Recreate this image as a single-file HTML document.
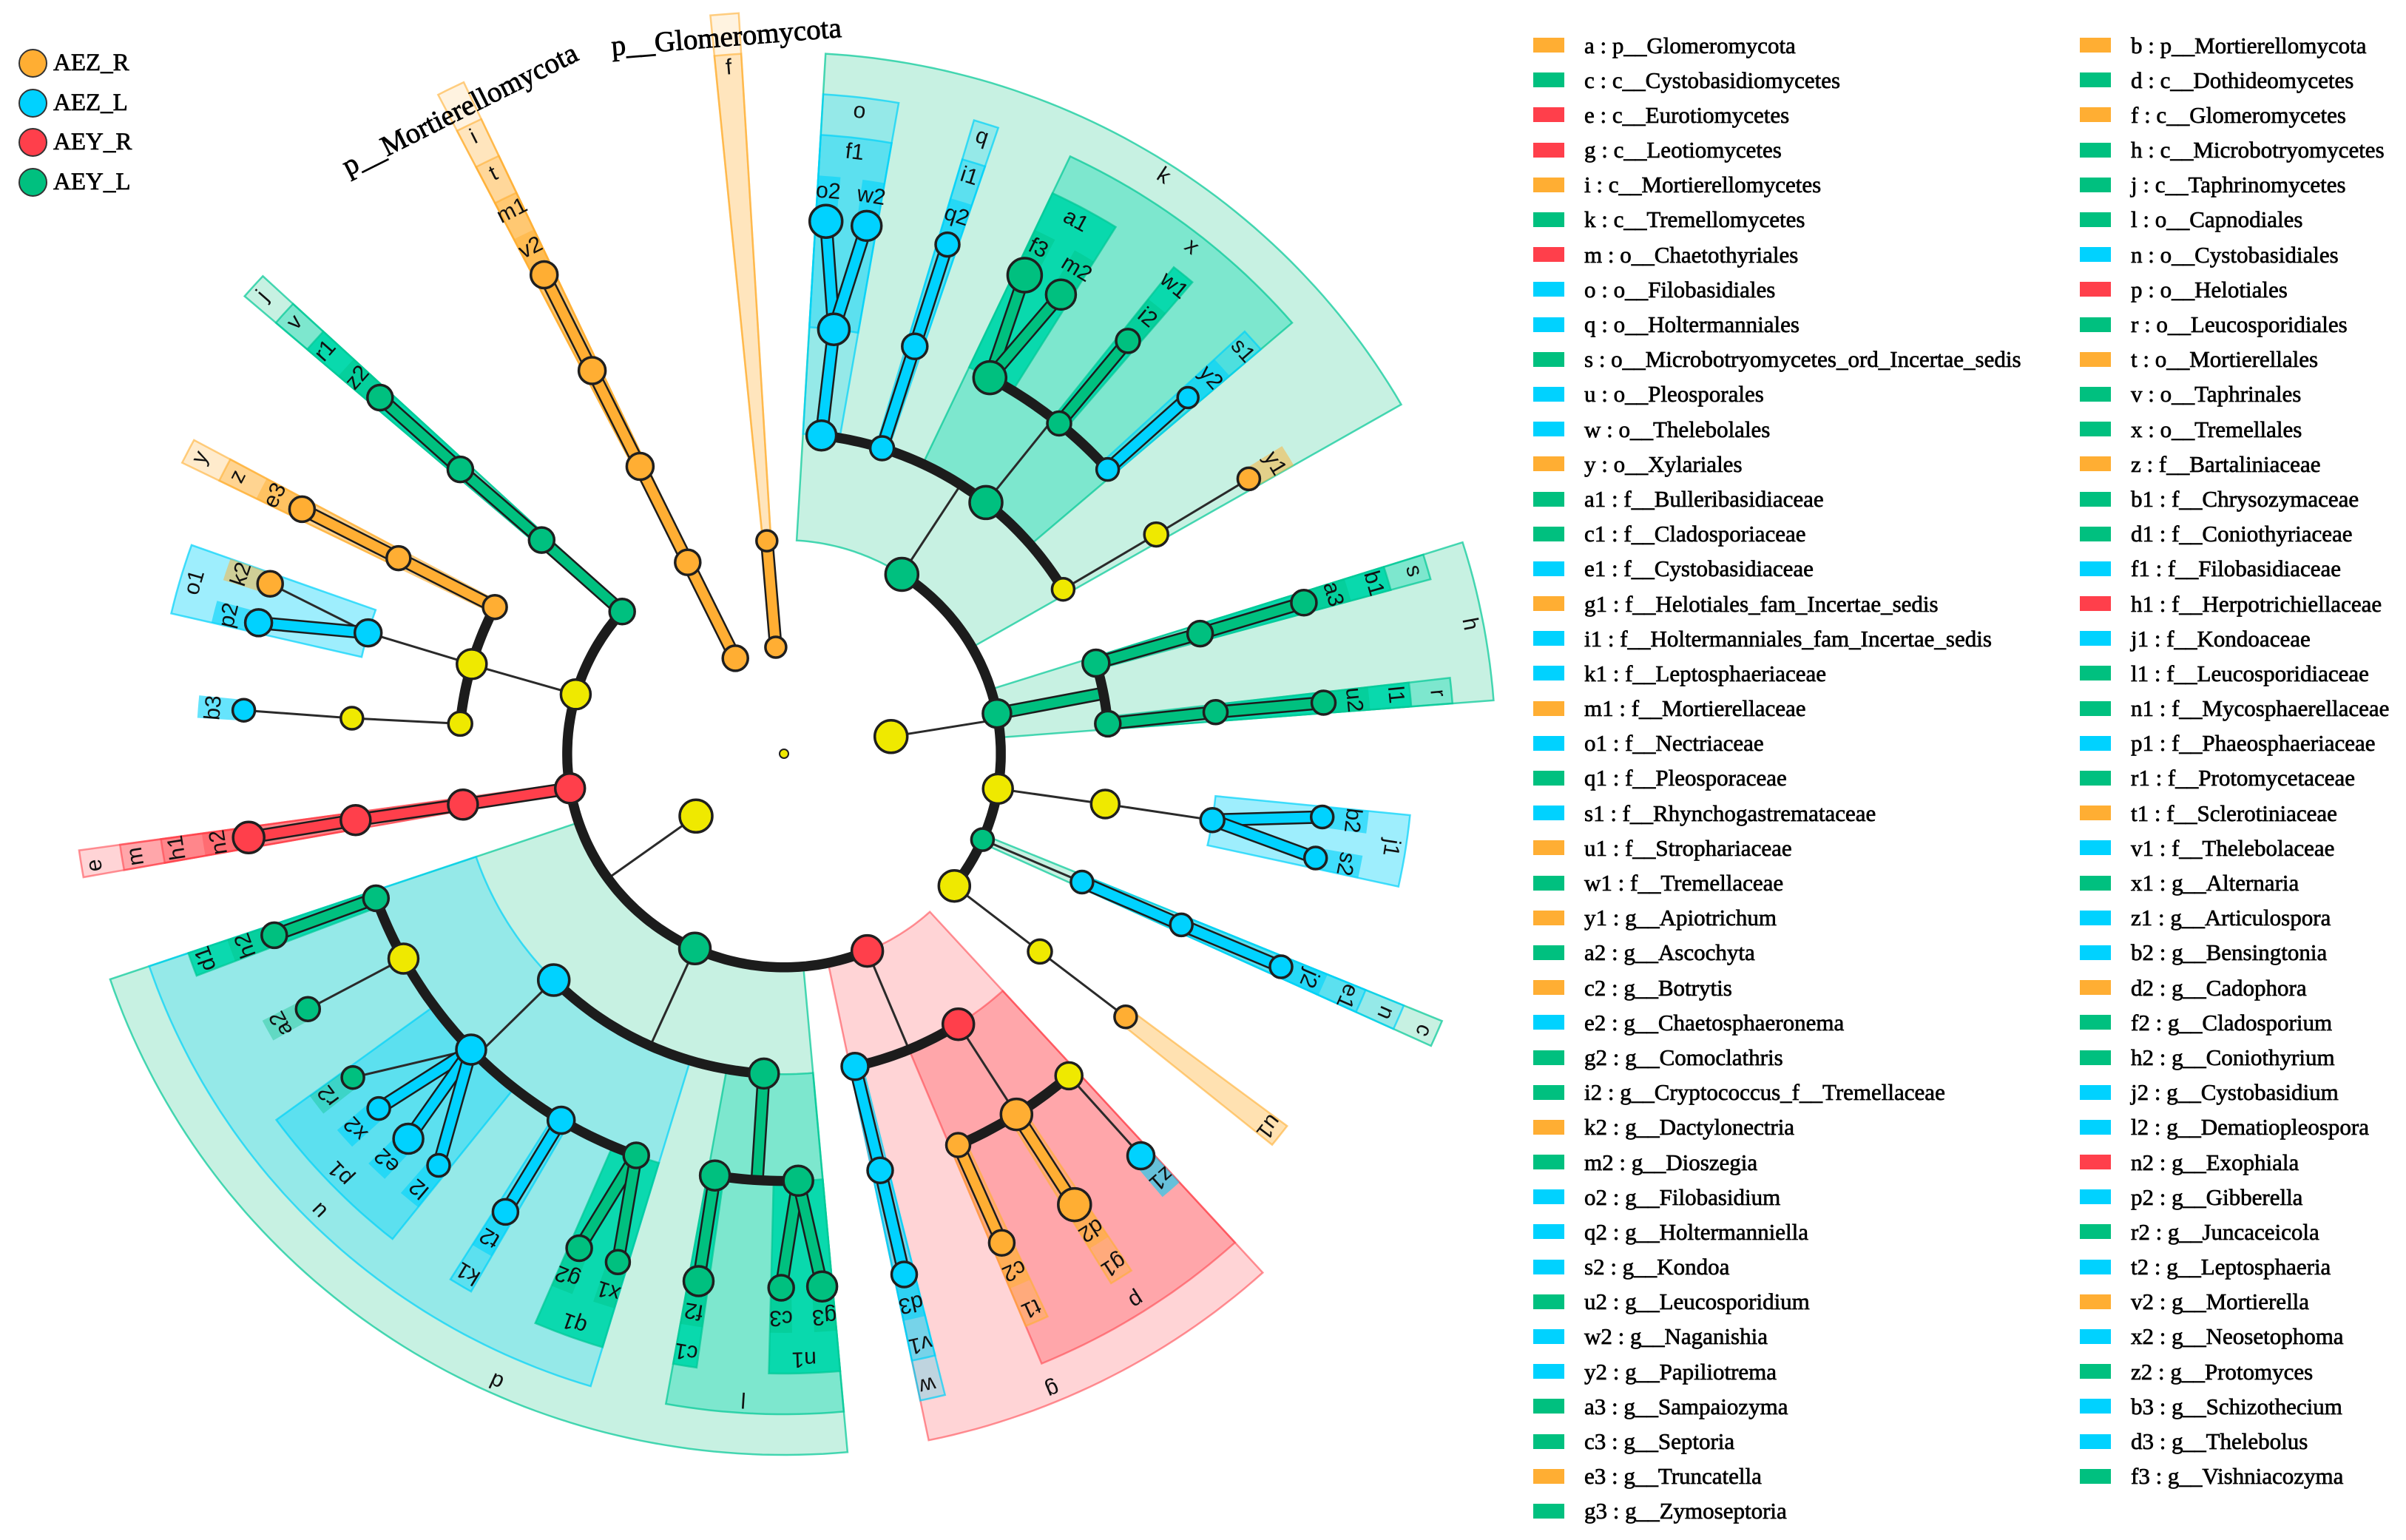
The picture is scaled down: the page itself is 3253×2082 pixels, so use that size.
<!DOCTYPE html>
<html lang="en">
<head>
<meta charset="utf-8">
<title>LEfSe cladogram</title>
<style>
html,body{margin:0;padding:0;background:#fff;}
#page{position:relative;width:3253px;height:2082px;overflow:hidden;background:#fff;}
#chart{position:absolute;left:0;top:0;}
.taxa{position:absolute;top:37.5px;font:31px/47.2px "Liberation Serif",serif;color:#000;-webkit-text-stroke:.7px #000;}
.taxa div{height:47.2px;display:flex;align-items:center;white-space:nowrap;}
.taxa i{display:block;width:42px;height:20px;margin-right:27px;flex:none;}
.O{background:#ffae33;}.G{background:#00c07f;}.R{background:#ff3f4b;}.B{background:#00d2ff;}
.groups{position:absolute;left:26px;top:59px;font:33px/53.5px "Liberation Serif",serif;color:#000;-webkit-text-stroke:.7px #000;}
.groups div{height:53.5px;display:flex;align-items:center;}
.groups i{display:block;width:35px;height:35px;border-radius:50%;border:2.5px solid #333;box-sizing:content-box;margin-right:8px;flex:none;margin-left:-1px;}
</style>
</head>
<body>
<div id="page">
<svg id="chart" width="3253" height="2082" viewBox="0 0 3253 2082" xmlns="http://www.w3.org/2000/svg"></svg>

<div class="groups">
<div><i class="O"></i>AEZ_R</div>
<div><i class="B"></i>AEZ_L</div>
<div><i class="R"></i>AEY_R</div>
<div><i class="G"></i>AEY_L</div>
</div>

<div class="taxa" style="left:2073px">
<div><i class="O"></i>a : p__Glomeromycota</div>
<div><i class="G"></i>c : c__Cystobasidiomycetes</div>
<div><i class="R"></i>e : c__Eurotiomycetes</div>
<div><i class="R"></i>g : c__Leotiomycetes</div>
<div><i class="O"></i>i : c__Mortierellomycetes</div>
<div><i class="G"></i>k : c__Tremellomycetes</div>
<div><i class="R"></i>m : o__Chaetothyriales</div>
<div><i class="B"></i>o : o__Filobasidiales</div>
<div><i class="B"></i>q : o__Holtermanniales</div>
<div><i class="G"></i>s : o__Microbotryomycetes_ord_Incertae_sedis</div>
<div><i class="B"></i>u : o__Pleosporales</div>
<div><i class="B"></i>w : o__Thelebolales</div>
<div><i class="O"></i>y : o__Xylariales</div>
<div><i class="G"></i>a1 : f__Bulleribasidiaceae</div>
<div><i class="G"></i>c1 : f__Cladosporiaceae</div>
<div><i class="B"></i>e1 : f__Cystobasidiaceae</div>
<div><i class="O"></i>g1 : f__Helotiales_fam_Incertae_sedis</div>
<div><i class="B"></i>i1 : f__Holtermanniales_fam_Incertae_sedis</div>
<div><i class="B"></i>k1 : f__Leptosphaeriaceae</div>
<div><i class="O"></i>m1 : f__Mortierellaceae</div>
<div><i class="B"></i>o1 : f__Nectriaceae</div>
<div><i class="G"></i>q1 : f__Pleosporaceae</div>
<div><i class="B"></i>s1 : f__Rhynchogastremataceae</div>
<div><i class="O"></i>u1 : f__Strophariaceae</div>
<div><i class="G"></i>w1 : f__Tremellaceae</div>
<div><i class="O"></i>y1 : g__Apiotrichum</div>
<div><i class="G"></i>a2 : g__Ascochyta</div>
<div><i class="O"></i>c2 : g__Botrytis</div>
<div><i class="B"></i>e2 : g__Chaetosphaeronema</div>
<div><i class="G"></i>g2 : g__Comoclathris</div>
<div><i class="G"></i>i2 : g__Cryptococcus_f__Tremellaceae</div>
<div><i class="O"></i>k2 : g__Dactylonectria</div>
<div><i class="G"></i>m2 : g__Dioszegia</div>
<div><i class="B"></i>o2 : g__Filobasidium</div>
<div><i class="B"></i>q2 : g__Holtermanniella</div>
<div><i class="B"></i>s2 : g__Kondoa</div>
<div><i class="G"></i>u2 : g__Leucosporidium</div>
<div><i class="B"></i>w2 : g__Naganishia</div>
<div><i class="B"></i>y2 : g__Papiliotrema</div>
<div><i class="G"></i>a3 : g__Sampaiozyma</div>
<div><i class="G"></i>c3 : g__Septoria</div>
<div><i class="O"></i>e3 : g__Truncatella</div>
<div><i class="G"></i>g3 : g__Zymoseptoria</div>
</div>

<div class="taxa" style="left:2812px">
<div><i class="O"></i>b : p__Mortierellomycota</div>
<div><i class="G"></i>d : c__Dothideomycetes</div>
<div><i class="O"></i>f : c__Glomeromycetes</div>
<div><i class="G"></i>h : c__Microbotryomycetes</div>
<div><i class="G"></i>j : c__Taphrinomycetes</div>
<div><i class="G"></i>l : o__Capnodiales</div>
<div><i class="B"></i>n : o__Cystobasidiales</div>
<div><i class="R"></i>p : o__Helotiales</div>
<div><i class="G"></i>r : o__Leucosporidiales</div>
<div><i class="O"></i>t : o__Mortierellales</div>
<div><i class="G"></i>v : o__Taphrinales</div>
<div><i class="G"></i>x : o__Tremellales</div>
<div><i class="O"></i>z : f__Bartaliniaceae</div>
<div><i class="G"></i>b1 : f__Chrysozymaceae</div>
<div><i class="G"></i>d1 : f__Coniothyriaceae</div>
<div><i class="B"></i>f1 : f__Filobasidiaceae</div>
<div><i class="R"></i>h1 : f__Herpotrichiellaceae</div>
<div><i class="B"></i>j1 : f__Kondoaceae</div>
<div><i class="G"></i>l1 : f__Leucosporidiaceae</div>
<div><i class="G"></i>n1 : f__Mycosphaerellaceae</div>
<div><i class="B"></i>p1 : f__Phaeosphaeriaceae</div>
<div><i class="G"></i>r1 : f__Protomycetaceae</div>
<div><i class="O"></i>t1 : f__Sclerotiniaceae</div>
<div><i class="B"></i>v1 : f__Thelebolaceae</div>
<div><i class="G"></i>x1 : g__Alternaria</div>
<div><i class="B"></i>z1 : g__Articulospora</div>
<div><i class="B"></i>b2 : g__Bensingtonia</div>
<div><i class="O"></i>d2 : g__Cadophora</div>
<div><i class="G"></i>f2 : g__Cladosporium</div>
<div><i class="G"></i>h2 : g__Coniothyrium</div>
<div><i class="B"></i>j2 : g__Cystobasidium</div>
<div><i class="B"></i>l2 : g__Dematiopleospora</div>
<div><i class="R"></i>n2 : g__Exophiala</div>
<div><i class="B"></i>p2 : g__Gibberella</div>
<div><i class="G"></i>r2 : g__Juncaceicola</div>
<div><i class="B"></i>t2 : g__Leptosphaeria</div>
<div><i class="O"></i>v2 : g__Mortierella</div>
<div><i class="B"></i>x2 : g__Neosetophoma</div>
<div><i class="G"></i>z2 : g__Protomyces</div>
<div><i class="B"></i>b3 : g__Schizothecium</div>
<div><i class="B"></i>d3 : g__Thelebolus</div>
<div><i class="G"></i>f3 : g__Vishniacozyma</div>
</div>
</div>

<script>
// Tree data (parallel arrays, same order). Uppercase Y* ids are unlabelled, non-significant (yellow) clades.
const nodeIds = ['root',
 'a','f','b','i','t','m1','v2','Yr','Yl',
 'k','o','f1','o2','w2','q','i1','q2','x','a1','f3','m2','w1','i2','s1','y2','Y3','Y4','y1',
 'h','s','b1','a3','r','l1','u2',
 'Y5','Y6','j1','b2','s2','c','n','e1','j2','Y7','Y8','u1',
 'g','w','v1','d3','p','g1','d2','t1','c2','Y9','z1',
 'd','l','c1','f2','n1','c3','g3',
 'u','d1','h2','Y10','a2','p1','r2','x2','e2','l2','k1','t2','q1','g2','x1',
 'e','m','h1','n2',
 'Y11','y','z','e3','Y12','o1','k2','p2','Y13','Y14','b3',
 'j','v','r1','z2'];
const nodeParents = [null,
 'root','a','root','b','i','t','m1','root','root',
 'Yr','k','o','f1','f1','k','q','i1','k','x','a1','a1','x','w1','x','s1','k','Y3','Y4',
 'Yr','h','s','b1','h','r','l1',
 'Yr','Y5','Y6','j1','j1','Yr','c','n','e1','Yr','Y7','Y8',
 'Yl','g','w','v1','g','p','g1','p','t1','p','Y9',
 'Yl','d','l','c1','l','n1','n1',
 'd','u','d1','u','Y10','u','p1','p1','p1','p1','u','k1','u','q1','q1',
 'Yl','e','m','h1',
 'Yl','Y11','y','z','Y11','Y12','o1','o1','Y11','Y13','Y14',
 'Yl','j','v','r1'];
const nodeAngles = [0,
 355.6,355.4,333,333.3,333.4,333.4,333.4,80.9,234.7,
 33.3,6.7,6.7,4.5,8.9,17.8,17.8,17.8,38.8,28.7,26.7,31.1,39.8,39.8,48.7,48.6,59.5,59.5,59.4,
 79.3,73.8,73.9,73.8,84.7,84.5,84.6,
 99.3,98.9,98.8,96.7,101.1,113.4,113.3,113.3,113.2,127.8,127.7,127.6,
 157.1,167.2,167,167,147.2,147.2,147.2,156,156,138.5,138.4,
 204.6,183.6,189.3,189.2,178.1,180.3,175.9,
 225.5,250.5,250.4,241.7,241.8,226.6,233.1,228.8,224.3,220,211.3,211.3,200.2,202.5,198.1,
 260.8,261,261.2,261.1,
 285.9,296.9,296.9,296.9,286,286.2,288.3,284,275.3,274.7,274.6,
 311.3,311.4,311.3,311.4];
const nodeLevels = [0,
 1,2,1,2,3,4,5,1,1,
 2,3,4,5,5,3,4,5,3,4,5,5,4,5,4,5,3,4,5,
 2,3,4,5,3,4,5,
 2,3,4,5,5,2,3,4,5,2,3,4,
 2,3,4,5,3,4,5,4,5,4,5,
 2,3,4,5,4,5,5,
 3,4,5,4,5,4,5,5,5,5,4,5,4,5,5,
 2,3,4,5,
 2,3,4,5,3,4,5,5,3,4,5,
 2,3,4,5];
const nodeSizes = [6,
 14,14,17,17,18,18,18,22,22,
 22,20,21,22,20,16,17,16,22,22,23,20,16,16,15,14,15,16,15,
 19,18,17,17,17,16,16,
 20,19,16,15,15,15,15,15,15,21,16,15,
 21,18,17,17,21,21,22,16,17,18,18,
 21,20,20,20,20,17,20,
 21,17,17,20,16,20,15,15,20,15,18,17,17,17,16,
 20,20,20,21,
 20,16,16,17,20,18,17,18,16,15,15,
 17,17,17,17];
const nodeGroups = ['Y',
 'O','O','O','O','O','O','O','Y','Y',
 'G','B','B','B','B','B','B','B','G','G','G','G','G','G','B','B','Y','Y','O',
 'G','G','G','G','G','G','G',
 'Y','Y','B','B','B','G','B','B','B','Y','Y','O',
 'R','B','B','B','R','O','O','O','O','Y','B',
 'G','G','G','G','G','G','G',
 'B','G','G','Y','G','B','G','B','B','B','B','B','G','G','G',
 'R','R','R','R',
 'Y','O','O','O','Y','B','O','B','Y','Y','B',
 'G','G','G','G'];
const thickSpokeClades = ['h','l'];
const unlabelledBands = ['a','b'];
const phylumNames = ['p__Glomeromycota','p__Mortierellomycota'];
const phylumAngles = [355.4,333.3];

// Axis functions
const CX = 1060, CY = 1019, RING = 144.4, HALF_BAND = 1.1;
const svg = document.getElementById('chart');
const NS = 'http://www.w3.org/2000/svg';
function polar(angle, radius){
  const a = angle*Math.PI/180, s = Math.sin(a), c = Math.cos(a);
  const R = radius*(1+0.015*s*s);
  return [CX+R*s, CY-R*c];
}
function ringRadius(level){ return RING*level; }
function bandOuter(level){ return 783+(5-level)*55; }
function labelRadius(level){ return 763+(5-level)*56; }
function arcPoints(a1, a2, radius){
  const pts = [], n = Math.max(2, Math.ceil(Math.abs(a2-a1)));
  for(let i=0;i<=n;i++){ pts.push(polar(a1+(a2-a1)*i/n, radius)); }
  return pts;
}
function pathFrom(pts, close){
  return 'M'+pts.map(p=>p[0].toFixed(1)+' '+p[1].toFixed(1)).join('L')+(close?'Z':'');
}
const PALETTE = {O:'#ffae33',G:'#00c07f',R:'#ff3f4b',B:'#00d2ff',Y:'#efe900'};
function bandFill(group, level){
  if(group==='G'){
    return {2:'rgba(0,190,125,.22)',3:'rgba(0,215,170,.37)',4:'rgba(0,215,170,.93)',5:'rgba(0,190,125,.35)'}[level];
  }
  if(group==='B'){
    return {3:'rgba(0,210,250,.25)',4:'rgba(0,210,250,.38)',5:'rgba(0,210,250,.6)'}[level];
  }
  if(group==='R'){
    return {2:'rgba(255,60,70,.22)',3:'rgba(255,60,70,.3)',4:'rgba(255,60,70,.3)',5:'rgba(255,60,70,.35)'}[level];
  }
  return {1:'rgba(255,175,50,.15)',2:'rgba(255,175,50,.2)',3:'rgba(255,175,50,.25)',4:'rgba(255,175,50,.38)',5:'rgba(255,175,50,.5)'}[level];
}
function bandStroke(group){
  return {G:'rgba(0,200,150,.7)',B:'rgba(0,210,250,.7)',R:'rgba(255,60,70,.55)',O:'rgba(255,175,50,.6)'}[group];
}

// Tree lookup
const idx = {};
nodeIds.forEach((id,i)=>{ idx[id]=i; });
const kids = nodeIds.map(()=>[]);
nodeParents.forEach((p,i)=>{ if(p!==null){ kids[idx[p]].push(i); } });
function leafRange(i){
  if(!kids[i].length){ return [nodeAngles[i],nodeAngles[i]]; }
  let lo=Infinity, hi=-Infinity;
  kids[i].forEach(k=>{ const r=leafRange(k); lo=Math.min(lo,r[0]); hi=Math.max(hi,r[1]); });
  return [lo,hi];
}

// Layers
function layer(name){
  const g = document.createElementNS(NS,'g');
  
  
  svg.appendChild(g);
  return g;
}
const bandLayer = layer('clade-bands');
const edgeLayer = layer('tree-edges');
const nodeLayer = layer('tree-nodes');
const labelLayer = layer('clade-labels');

// Clade bands, outermost rank first
[1,2,3,4,5].forEach(level=>{
  nodeIds.forEach((id,i)=>{
    if(nodeLevels[i]!==level || nodeGroups[i]==='Y'){ return; }
    const r = leafRange(i), a1 = r[0]-HALF_BAND, a2 = r[1]+HALF_BAND;
    const inner = ringRadius(level), outer = bandOuter(level);
    const pts = arcPoints(a1,a2,outer).concat(arcPoints(a2,a1,inner));
    const band = document.createElementNS(NS,'path');
    
    
    band.setAttribute('d', pathFrom(pts,true));
    band.setAttribute('fill', bandFill(nodeGroups[i],level));
    if(level<5){
      band.setAttribute('stroke', bandStroke(nodeGroups[i]));
      band.setAttribute('stroke-width', '2.5');
    }
    bandLayer.appendChild(band);
  });
});

function drawLine(p1, p2, colour, width, name){
  const ln = document.createElementNS(NS,'line');
  
  
  ln.setAttribute('x1', p1[0].toFixed(1));
  ln.setAttribute('y1', p1[1].toFixed(1));
  ln.setAttribute('x2', p2[0].toFixed(1));
  ln.setAttribute('y2', p2[1].toFixed(1));
  ln.setAttribute('stroke', colour);
  ln.setAttribute('stroke-width', width);
  edgeLayer.appendChild(ln);
}
function linkEdge(p1, p2, thick, group, name){
  if(thick){
    drawLine(p1,p2,'#1c1c1c',18,name+'-outline');
    drawLine(p1,p2,PALETTE[group],13,name);
  } else {
    drawLine(p1,p2,'#2a2a2a',3,name);
  }
}

// Edges
nodeIds.forEach((id,i)=>{
  if(id==='root'){ return; }
  const ch = kids[i];
  if(!ch.length){ return; }
  const pPos = polar(nodeAngles[i], ringRadius(nodeLevels[i]));
  const childLevel = nodeLevels[i]+1;
  if(ch.length>1 && nodeLevels[i]<=3){
    const ang = ch.map(k=>nodeAngles[k]);
    const lo = Math.min.apply(null,ang), hi = Math.max.apply(null,ang);
    const spokeEnd = polar(nodeAngles[i], ringRadius(childLevel));
    const thick = thickSpokeClades.indexOf(id)>=0;
    linkEdge(pPos, spokeEnd, thick, nodeGroups[i], 'spoke-'+id);
    const arc = document.createElementNS(NS,'path');
    
    
    arc.setAttribute('d', pathFrom(arcPoints(lo,hi,ringRadius(childLevel)),false));
    arc.setAttribute('fill', 'none');
    arc.setAttribute('stroke', '#1c1c1c');
    arc.setAttribute('stroke-width', '13.5');
    edgeLayer.appendChild(arc);
  } else {
    ch.forEach(k=>{
      const cPos = polar(nodeAngles[k], ringRadius(nodeLevels[k]));
      const same = nodeGroups[k]===nodeGroups[i] && nodeGroups[i]!=='Y';
      linkEdge(pPos, cPos, same, nodeGroups[k], 'edge-'+nodeIds[k]);
    });
  }
});

// Nodes
nodeIds.forEach((id,i)=>{
  const pos = polar(nodeAngles[i], ringRadius(nodeLevels[i]));
  const dot = document.createElementNS(NS,'circle');
  
  
  dot.setAttribute('cx', pos[0].toFixed(1));
  dot.setAttribute('cy', pos[1].toFixed(1));
  dot.setAttribute('r', nodeSizes[i]);
  dot.setAttribute('fill', PALETTE[nodeGroups[i]]);
  dot.setAttribute('stroke', '#1f1f1f');
  dot.setAttribute('stroke-width', id==='root'?'2':'3.5');
  nodeLayer.appendChild(dot);
});

// Clade letter labels
nodeIds.forEach((id,i)=>{
  if(nodeGroups[i]==='Y' || unlabelledBands.indexOf(id)>=0){ return; }
  const angle = nodeAngles[i];
  const pos = polar(angle, labelRadius(nodeLevels[i]));
  const tx = document.createElementNS(NS,'text');
  
  
  tx.setAttribute('x', pos[0].toFixed(1));
  tx.setAttribute('y', pos[1].toFixed(1));
  tx.setAttribute('text-anchor', 'middle');
  tx.setAttribute('dominant-baseline', 'central');
  tx.setAttribute('font-family', '"Liberation Sans", sans-serif');
  tx.setAttribute('font-size', '30');
  tx.setAttribute('fill', '#111');
  tx.setAttribute('transform', 'rotate('+angle+' '+pos[0].toFixed(1)+' '+pos[1].toFixed(1)+')');
  tx.textContent = id;
  labelLayer.appendChild(tx);
});

// Phylum names
phylumNames.forEach((name,i)=>{
  const pos = polar(phylumAngles[i], 972);
  const tx = document.createElementNS(NS,'text');
  
  
  tx.setAttribute('x', pos[0].toFixed(1));
  tx.setAttribute('y', pos[1].toFixed(1));
  tx.setAttribute('text-anchor', 'middle');
  tx.setAttribute('dominant-baseline', 'central');
  tx.setAttribute('font-family', '"Liberation Serif", serif');
  tx.setAttribute('font-size', '39');
  tx.setAttribute('fill', '#000');
  tx.setAttribute('stroke', '#000');
  tx.setAttribute('stroke-width', '.8');
  tx.setAttribute('transform', 'rotate('+phylumAngles[i]+' '+pos[0].toFixed(1)+' '+pos[1].toFixed(1)+')');
  tx.textContent = name;
  labelLayer.appendChild(tx);
});
</script>
</body>
</html>
